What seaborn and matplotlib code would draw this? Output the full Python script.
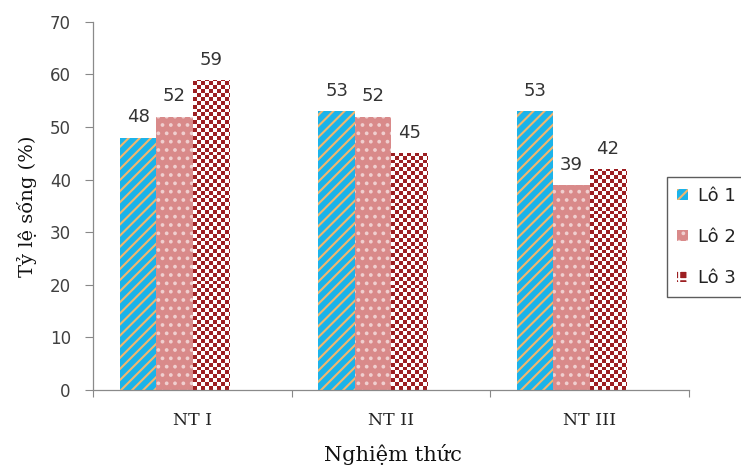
import matplotlib
matplotlib.use("Agg")
import matplotlib.pyplot as plt
from matplotlib.patches import Patch
import numpy as np
import seaborn as sns
import pandas as pd

# Survival rate (%) per treatment and batch
treatments = ["NT I", "NT II", "NT III"]
batches = ["Lô 1", "Lô 2", "Lô 3"]
lo1 = [48, 53, 53]
lo2 = [52, 52, 39]
lo3 = [59, 45, 42]
y_ticks = [0, 10, 20, 30, 40, 50, 60, 70]

face_colors = ["#1BB3EA", "#D98A8A", "#9C1F22"]
hatch_colors = ["#F2B66E", "#F0CFCF", "#FFFFFF"]
hatches = ["///", "..", "++"]

df = pd.DataFrame({
    "Nghiệm thức": treatments * 3,
    "Lô": [b for b in batches for _ in treatments],
    "Tỷ lệ sống": lo1 + lo2 + lo3,
})

sns.set_theme(style="white")
plt.rcParams["hatch.linewidth"] = 1.5

fig = plt.figure(figsize=(7.41, 4.66), dpi=100)
ax = fig.add_axes([0.1255, 0.163, 0.804, 0.79])

sns.barplot(data=df, x="Nghiệm thức", y="Tỷ lệ sống", hue="Lô",
            order=treatments, hue_order=batches, palette=face_colors,
            width=0.55, gap=0, saturation=1, errorbar=None, ax=ax,
            legend=False)

# category labels sit a little to the right of each bar cluster
shift = 0.09
ax.set_ylim(0, 70)
ax.set_xlim(-0.5 + shift, len(treatments) - 0.5 + shift)

for i, cont in enumerate(ax.containers):
    for bar in cont:
        bar.set_facecolor(face_colors[i])
        bar.set_edgecolor(hatch_colors[i])
        bar.set_linewidth(0)
        if i < 2:
            bar.set_hatch(hatches[i])
    ax.bar_label(cont, padding=8, fontsize=13, color="#333333",
                 family="DejaVu Sans")

# checkerboard fill for the third batch, clipped to each bar
cell_px = 3.9
for bar in ax.containers[2]:
    x0, y0 = bar.get_x(), bar.get_y()
    x1, y1 = x0 + bar.get_width(), y0 + bar.get_height()
    (px0, py0), (px1, py1) = ax.transData.transform([(x0, y0), (x1, y1)])
    nx = max(1, int(np.ceil((px1 - px0) / cell_px)))
    ny = max(1, int(np.ceil((py1 - py0) / cell_px)))
    jj, ii = np.meshgrid(np.arange(nx), np.arange(ny))
    mask = (ii + jj) % 2 == 0
    img = np.ones((ny, nx, 3))
    img[mask] = matplotlib.colors.to_rgb(face_colors[2])
    im = ax.imshow(img, extent=(x0, x0 + nx * cell_px * (x1 - x0) / (px1 - px0),
                                y0, y0 + ny * cell_px * (y1 - y0) / (py1 - py0)),
                   origin="lower", interpolation="nearest", aspect="auto",
                   zorder=bar.get_zorder() + 0.1)
    im.set_clip_path(bar)

ax.set_ylim(0, 70)
ax.set_xlim(-0.5 + shift, len(treatments) - 0.5 + shift)
ax.set_yticks(y_ticks)
ax.set_yticklabels([str(t) for t in y_ticks], fontsize=12, color="#404040",
                   family="DejaVu Sans")
ax.set_xticks([k + shift for k in range(len(treatments))])
ax.set_xticklabels(treatments, fontsize=12.5, family="DejaVu Serif",
                   color="#222222")
ax.set_xticks([k - 0.5 + shift for k in range(len(treatments) + 1)], minor=True)
ax.tick_params(axis="x", which="major", length=0, pad=16)
ax.tick_params(axis="x", which="minor", length=5, width=0.8,
               color="#888888", direction="out", bottom=True)
ax.tick_params(axis="y", length=6, width=0.8, color="#888888",
               direction="out", left=True, pad=10)

for side in ["top", "right"]:
    ax.spines[side].set_visible(False)
for side in ["left", "bottom"]:
    ax.spines[side].set_color("#8a8a8a")
    ax.spines[side].set_linewidth(0.9)
    ax.spines[side].set_linestyle((0, (1, 1)))

ax.set_ylabel("Tỷ lệ sống (%)", family="DejaVu Serif", fontsize=14,
              color="#111111")
ax.yaxis.set_label_coords(-0.094, 0.5)
ax.set_xlabel("Nghiệm thức", family="DejaVu Serif", fontsize=15,
              color="#111111")
ax.xaxis.set_label_coords(0.503, -0.147)

handles = [Patch(facecolor=face_colors[i], edgecolor=hatch_colors[i],
                 hatch=hatches[i], linewidth=0, label=batches[i])
           for i in range(3)]
leg = fig.legend(handles=handles, loc="upper left",
                 bbox_to_anchor=(667 / 741, 1 - 177 / 466), frameon=True,
                 fancybox=False, fontsize=13, handlelength=0.6,
                 handleheight=0.5, handletextpad=0.55, labelspacing=1.27,
                 borderpad=0.55, borderaxespad=0)
leg.get_frame().set_edgecolor("#333333")
leg.get_frame().set_linewidth(1.0)
for t in leg.get_texts():
    t.set_color("#222222")

fig.savefig("out.png", dpi=100)
